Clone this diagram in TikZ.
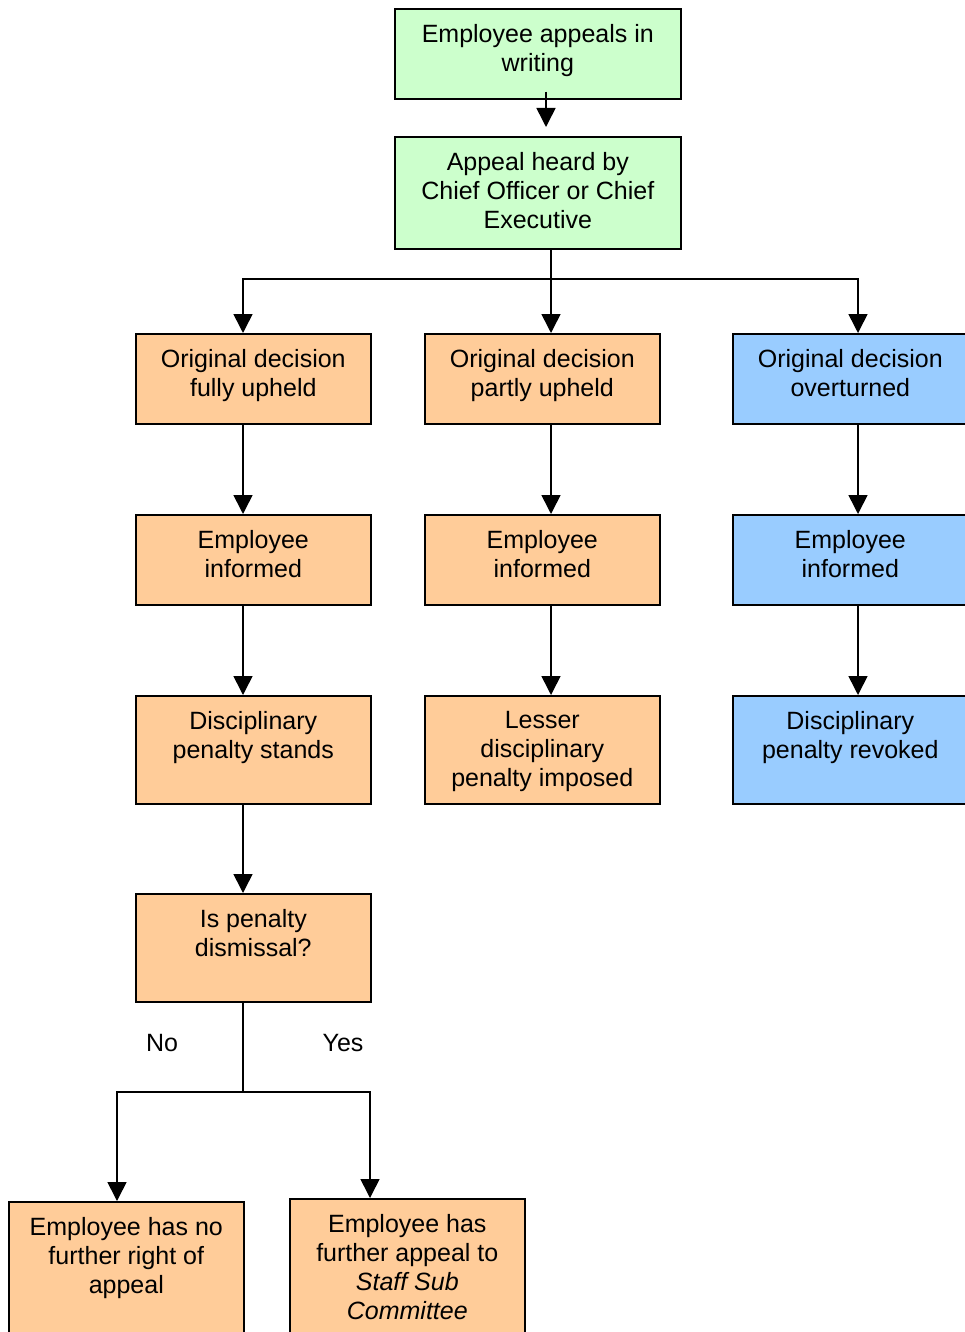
\documentclass[tikz,border=0pt]{standalone}
\usepackage{fontspec}
\setmainfont{Liberation Sans}
\usetikzlibrary{arrows.meta,calc}
\definecolor{appealgreen}{HTML}{CCFFCC}
\definecolor{upheldorange}{HTML}{FFCC99}
\definecolor{overblue}{HTML}{99CCFF}
\begin{document}
\begin{tikzpicture}[x=1pt,y=-1pt,
	stagebox/.style={draw,line width=1.6pt,rectangle,anchor=north west,inner sep=0pt,minimum width=235pt,minimum height=90pt},
	stagetext/.style={anchor=north,yshift=-16pt,align=center,inner sep=0pt,font=\fontsize{25pt}{29pt}\selectfont},
	link/.style={line width=1.6pt},
	arr/.style={link,-{Triangle[length=19pt,width=19pt]}}]
	\fill[white] (0,0) rectangle (964,1332);
	\useasboundingbox (0,0) rectangle (964,1332);
	% columns and junctions
	\coordinate (colTop) at (546,0);
	\coordinate (colL) at (243,0);
	\coordinate (colM) at (551,0);
	\coordinate (colR) at (858,0);
	\coordinate (colNo) at (117,0);
	\coordinate (colYes) at (370,0);
	\coordinate (bus) at (551,279);
	\coordinate (split) at (243,1092);
	% appeal
	\node[stagebox,fill=appealgreen,minimum width=286pt] (writing) at (394,8) {};
	\node[stagetext] (writingT) at (writing.north) {Employee appeals in\\writing};
	\node[stagebox,fill=appealgreen,minimum width=286pt,minimum height=112pt] (heard) at (394,136) {};
	\node[stagetext] (heardT) at (heard.north) {Appeal heard by\\Chief Officer or Chief\\Executive};
	% outcomes
	\node[stagebox,fill=upheldorange] (fullyup) at (135,333) {};
	\node[stagetext] (fullyupT) at (fullyup.north) {Original decision\\fully upheld};
	\node[stagebox,fill=upheldorange] (partlyup) at (424,333) {};
	\node[stagetext] (partlyupT) at (partlyup.north) {Original decision\\partly upheld};
	\node[stagebox,fill=overblue] (overturned) at (732,333) {};
	\node[stagetext] (overturnedT) at (overturned.north) {Original decision\\overturned};
	\node[stagebox,fill=upheldorange] (informedA) at (135,514) {};
	\node[stagetext] (informedAT) at (informedA.north) {Employee\\informed};
	\node[stagebox,fill=upheldorange] (informedB) at (424,514) {};
	\node[stagetext] (informedBT) at (informedB.north) {Employee\\informed};
	\node[stagebox,fill=overblue] (informedC) at (732,514) {};
	\node[stagetext] (informedCT) at (informedC.north) {Employee\\informed};
	\node[stagebox,fill=upheldorange,minimum height=108pt] (stands) at (135,695) {};
	\node[stagetext] (standsT) at (stands.north) {Disciplinary\\penalty stands};
	\node[stagebox,fill=upheldorange,minimum height=108pt] (lesser) at (424,695) {};
	\node[stagetext] (lesserT) at (lesser.north) {Lesser\\disciplinary\\penalty imposed};
	\node[stagebox,fill=overblue,minimum height=108pt] (revoked) at (732,695) {};
	\node[stagetext] (revokedT) at (revoked.north) {Disciplinary\\penalty revoked};
	% dismissal question
	\node[stagebox,fill=upheldorange,minimum height=108pt] (dismissal) at (135,893) {};
	\node[stagetext] (dismissalT) at (dismissal.north) {Is penalty\\dismissal?};
	\node[stagebox,fill=upheldorange,minimum height=150pt] (noright) at (8,1201) {};
	\node[stagetext] (norightT) at (noright.north) {Employee has no\\further right of\\appeal};
	\node[stagebox,fill=upheldorange,minimum height=150pt] (further) at (289,1198) {};
	\node[stagetext] (furtherT) at (further.north) {Employee has\\further appeal to\\\textit{Staff Sub}\\\textit{Committee}};
	% connectors
	\draw[arr] ($(writing.south -| colTop)+(0,-8)$) -- ($(heard.north -| colTop)+(0,-9)$);
	\draw[link] (heard.south -| bus) -- (bus);
	\draw[arr] (bus) -| (fullyup.north -| colL);
	\draw[arr] (bus) -- (partlyup.north -| colM);
	\draw[arr] (bus) -| (overturned.north -| colR);
	\foreach \a/\b/\c in {fullyup/informedA/colL,informedA/stands/colL,stands/dismissal/colL,
		partlyup/informedB/colM,informedB/lesser/colM,
		overturned/informedC/colR,informedC/revoked/colR}
		\draw[arr] (\a.south -| \c) -- (\b.north -| \c);
	\draw[link] (dismissal.south -| colL) -- (split);
	\draw[arr] (split) -| (noright.north -| colNo);
	\draw[arr] (split) -| (further.north -| colYes);
	\node[font=\fontsize{25pt}{29pt}\selectfont] (no) at (162,1043) {No};
	\node[font=\fontsize{25pt}{29pt}\selectfont] (yes) at (343,1043) {Yes};
\end{tikzpicture}
\end{document}
